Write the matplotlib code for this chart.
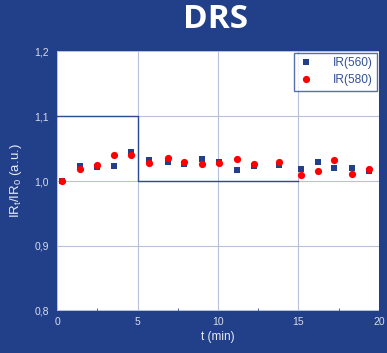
import matplotlib.pyplot as plt
from matplotlib.ticker import MultipleLocator, FuncFormatter

# time points (min) and normalised IR intensities
t = [0.3, 1.4, 2.5, 3.55, 4.6, 5.7, 6.9, 7.9, 9.0, 10.05, 11.2, 12.25,
     13.8, 15.15, 16.2, 17.2, 18.35, 19.35]
ir560 = [1.000, 1.0235, 1.021, 1.0235, 1.045, 1.032, 1.030, 1.026, 1.034,
         1.030, 1.017, 1.0235, 1.025, 1.019, 1.030, 1.0205, 1.0205, 1.015]
ir580 = [1.000, 1.018, 1.0246, 1.040, 1.0395, 1.028, 1.036, 1.029, 1.026,
         1.028, 1.034, 1.026, 1.029, 1.0097, 1.015, 1.032, 1.011, 1.018]

# gas switching profile
step_t = [0, 5, 5, 15]
step_y = [1.1, 1.1, 1.0, 1.0]

bg = '#22408a'
plt.rcParams['font.family'] = ['Liberation Sans', 'DejaVu Sans']

fig = plt.figure(figsize=(3.87, 3.53), dpi=100, facecolor=bg)
ax = fig.add_axes([0.1473, 0.119, 0.832, 0.7365])
ax.set_facecolor('white')

ax.plot(step_t, step_y, color='#2e4a92', lw=1.0, zorder=2)
ax.plot(t, ir560, 's', color='#22408a', ms=4.3, mew=0, label='IR(560)', zorder=3)
ax.plot(t, ir580, 'o', color='#ff0000', ms=5.2, mew=0, label='IR(580)', zorder=4)

ax.set_xlim(0, 20)
ax.set_ylim(0.8, 1.2)
ax.xaxis.set_major_locator(MultipleLocator(5))
ax.xaxis.set_minor_locator(MultipleLocator(2.5))
ax.yaxis.set_major_locator(MultipleLocator(0.1))
ax.yaxis.set_major_formatter(FuncFormatter(lambda v, p: f'{v:.1f}'.replace('.', ',')))

ax.grid(True, color='#b8c0da', lw=0.8)
for s in ax.spines.values():
    s.set_visible(False)
ax.axhline(0.8, color='#b8c0da', lw=1.5, zorder=1)

ax.tick_params(axis='both', which='major', length=0, labelsize=7.5,
               labelcolor='#d8dce8', pad=6)
ax.tick_params(axis='x', which='minor', length=2, color='#2e4a92', direction='in')
ax.tick_params(axis='x', which='major', pad=4)

ax.set_xlabel('t (min)', color='#e8ecf4', fontsize=8.5, labelpad=3)
ax.set_ylabel('IR$_{\\mathregular{t}}$/IR$_{\\mathregular{0}}$ (a.u.)',
              color='#e8ecf4', fontsize=9.5, labelpad=7)

leg = ax.legend(loc='upper right', fontsize=8.6, frameon=True, fancybox=False,
                borderaxespad=0.15, handletextpad=1.6, borderpad=0.35,
                labelspacing=0.45, handlelength=1.3)
leg.get_frame().set_edgecolor('#2e4a92')
leg.get_frame().set_linewidth(1.0)
for txt in leg.get_texts():
    txt.set_color('#34509a')

fig.text(0.556, 0.944, 'DRS', ha='center', va='center', color='white',
         fontsize=24, fontweight='bold', family='Open Sans')

fig.savefig('out.png', dpi=100, facecolor=bg)
